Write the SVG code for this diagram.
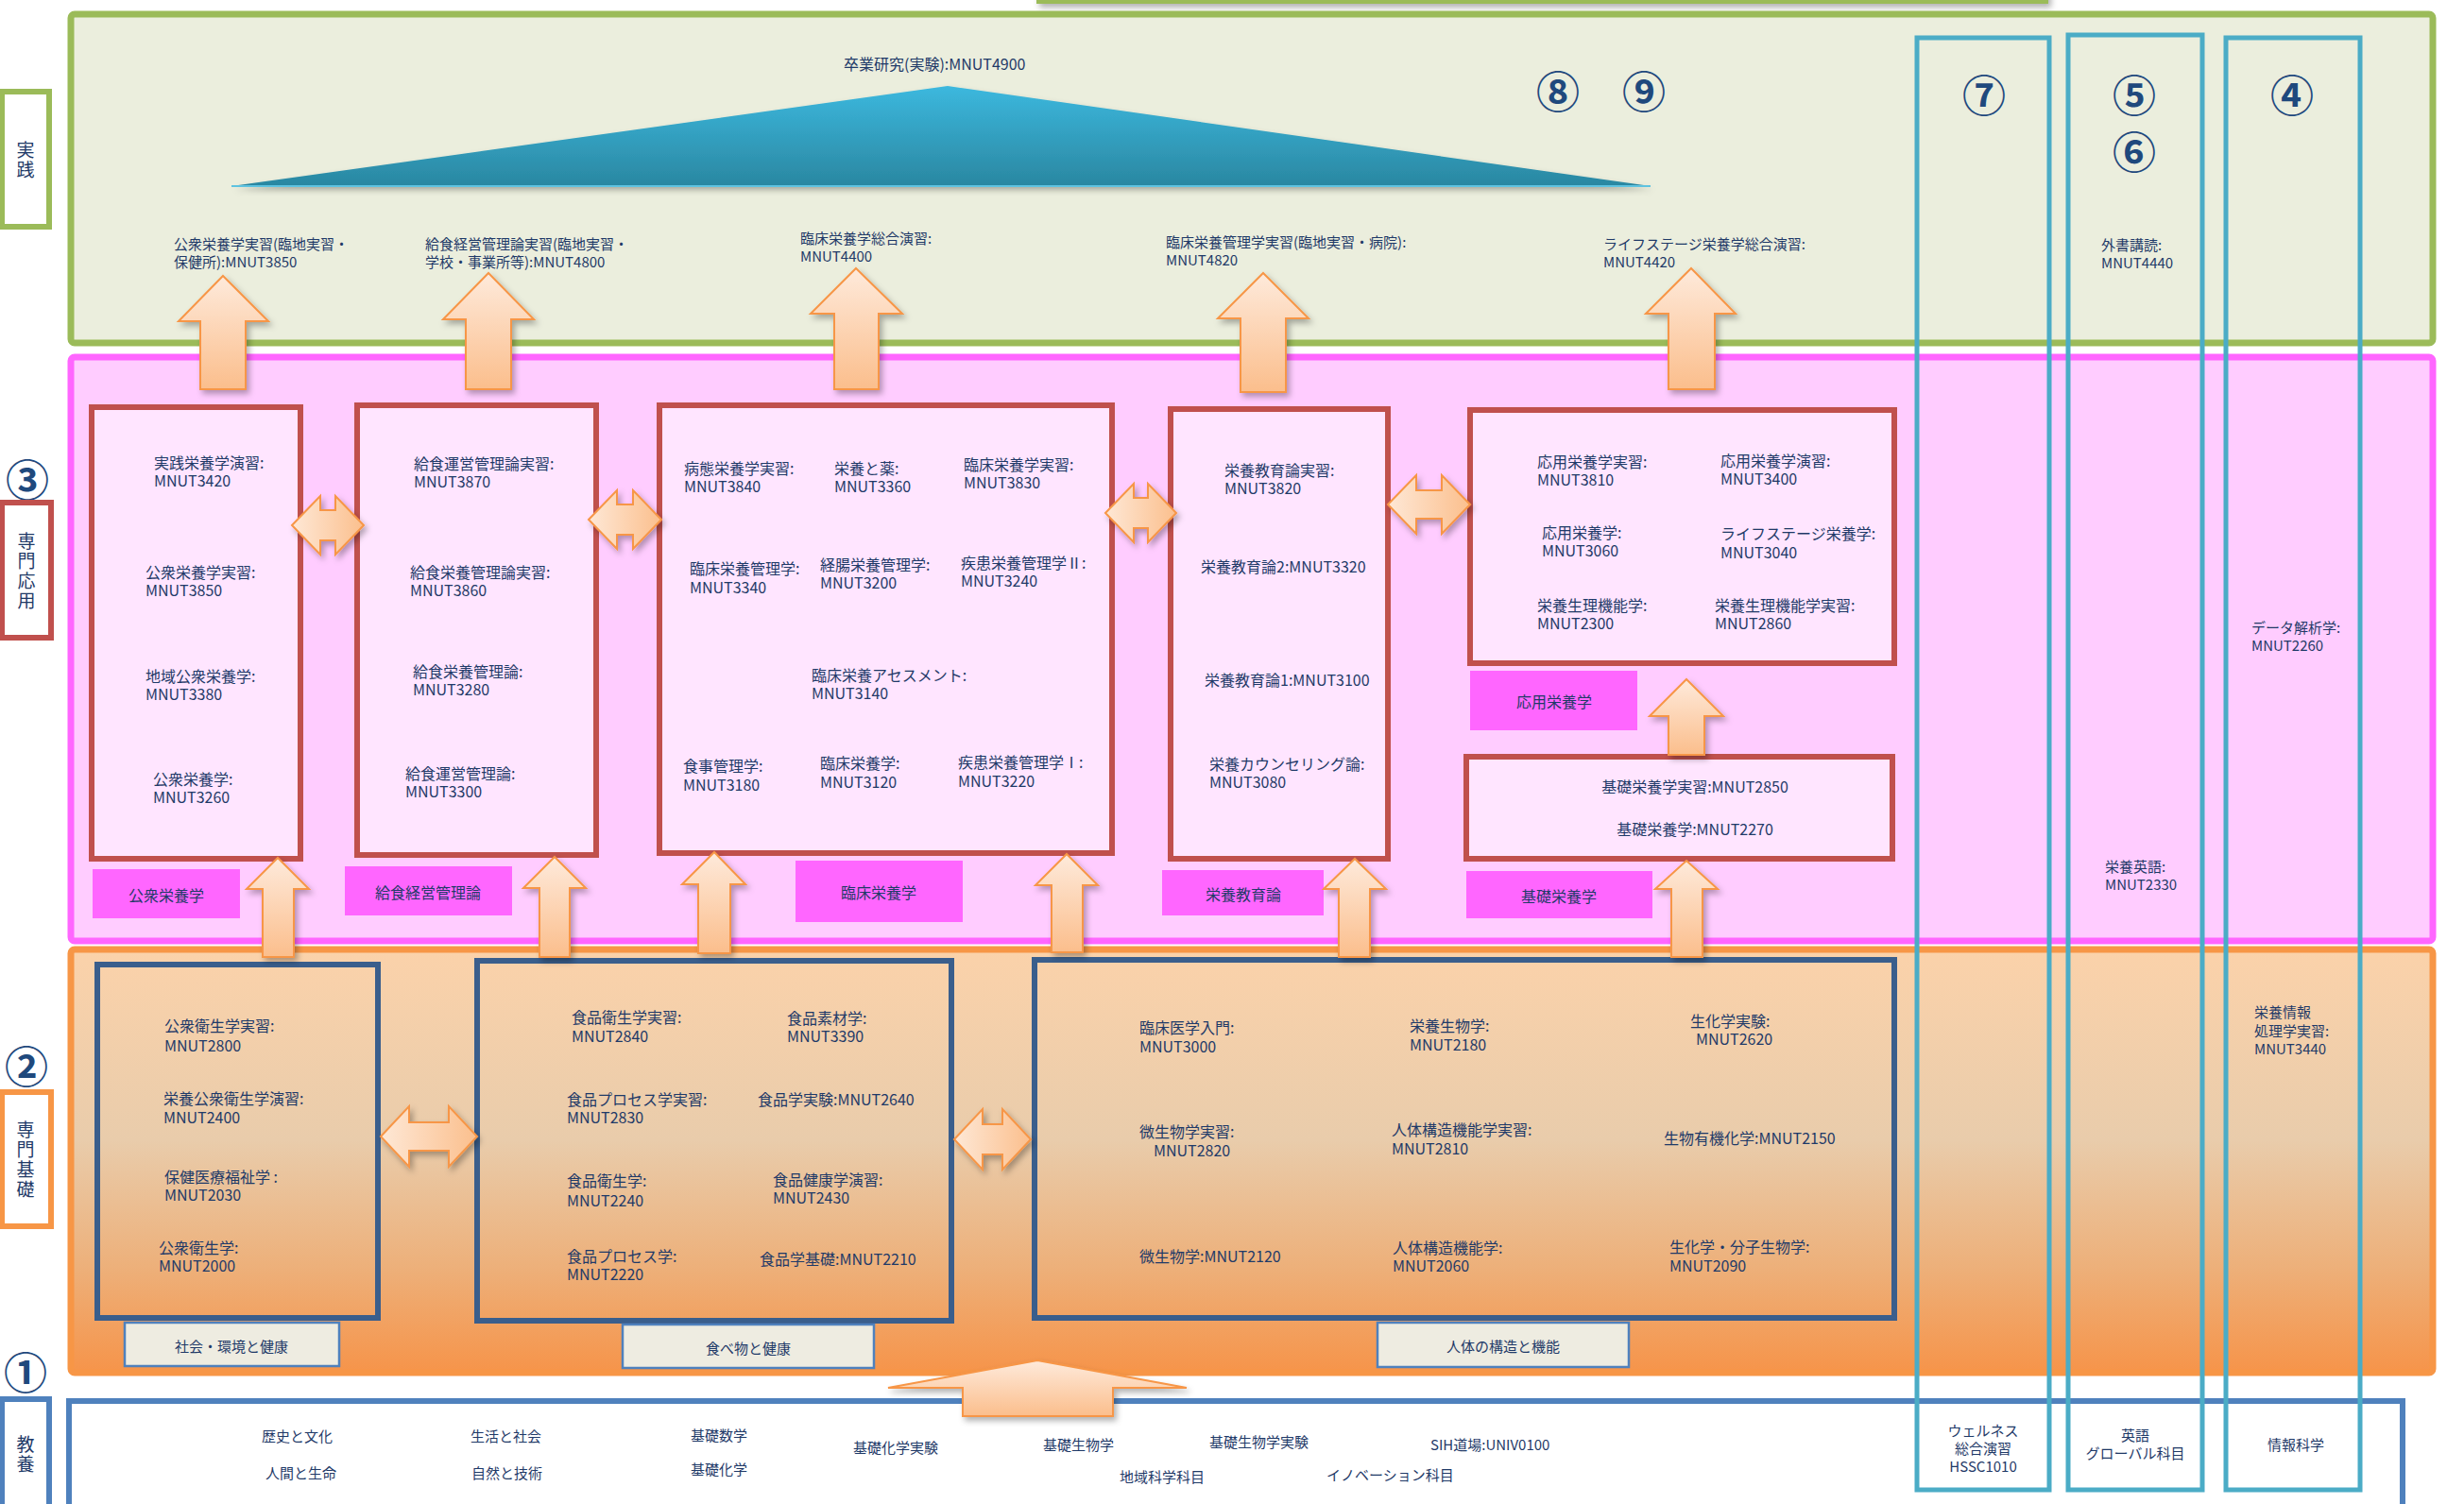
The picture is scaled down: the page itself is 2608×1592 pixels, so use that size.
<svg xmlns="http://www.w3.org/2000/svg" width="2608" height="1592" viewBox="0 0 2608 1592">
<style>
.t{font-family:"Noto Sans CJK JP","Noto Sans CJK SC",sans-serif;font-size:16px;fill:#1F3A68;dominant-baseline:central}
.s15{font-size:15px}
.m{text-anchor:middle}
.num{font-family:"Noto Sans CJK JP","DejaVu Sans",sans-serif;font-size:46px;font-weight:bold;fill:#1F497D;text-anchor:middle;dominant-baseline:central}
.side{font-family:"Noto Sans CJK JP",sans-serif;font-size:19px;fill:#1F3A68;text-anchor:middle;writing-mode:vertical-rl;letter-spacing:2px}
.pbox{fill:#FFE5FF;stroke:#C0504D;stroke-width:6}
.obox{fill:none;stroke:#3A5E8C;stroke-width:6}
.tag{fill:#FF66FF}
.gtag{fill:#EEECE1;stroke:#4F81BD;stroke-width:2.5}
.col{fill:none;stroke:#4BACC6;stroke-width:5}
.up{fill:url(#gUp);stroke:#F79646;stroke-width:2;filter:url(#sh)}
.lr{fill:url(#gLR);stroke:#F79646;stroke-width:2;filter:url(#sh)}
</style>
<defs>
<linearGradient id="gOr" x1="0" y1="0" x2="0" y2="1">
<stop offset="0" stop-color="#FBD2AA"/><stop offset="0.45" stop-color="#E9CCAB"/><stop offset="0.75" stop-color="#EDB07A"/><stop offset="1" stop-color="#F6944A"/>
</linearGradient>
<linearGradient id="gUp" x1="0" y1="0" x2="0" y2="1">
<stop offset="0" stop-color="#FEEADB"/><stop offset="1" stop-color="#FBBE8C"/>
</linearGradient>
<linearGradient id="gLR" x1="0" y1="0" x2="1" y2="0">
<stop offset="0" stop-color="#FEE8D6"/><stop offset="1" stop-color="#FBBF8D"/>
</linearGradient>
<linearGradient id="gTri" x1="0" y1="0" x2="0" y2="1">
<stop offset="0" stop-color="#3CB8DE"/><stop offset="1" stop-color="#2A87A1"/>
</linearGradient>
<filter id="sh" x="-20%" y="-20%" width="150%" height="150%">
<feDropShadow dx="3" dy="4" stdDeviation="3" flood-color="#000" flood-opacity="0.3"/>
</filter>
</defs>

<!-- layers -->
<g id="layers">
<rect x="1099" y="-40" width="1067" height="42" fill="#fff" stroke="#9BBB59" stroke-width="4" filter="url(#sh)"/>
<rect id="layer-jissen" x="75" y="15" width="2500" height="348" rx="4" fill="#EBEEDD" stroke="#9BBB59" stroke-width="7"/>
<rect id="layer-oyo" x="75" y="378" width="2500" height="618" rx="4" fill="#FFCCFF" stroke="#FF66FF" stroke-width="7"/>
<rect id="layer-kiso" x="75" y="1005" width="2500" height="448" rx="4" fill="url(#gOr)" stroke="#F79646" stroke-width="7"/>
<rect id="layer-kyoyo" x="73" y="1483" width="2470" height="140" fill="#fff" stroke="#4F81BD" stroke-width="6"/>
</g>

<!-- left side labels -->
<g id="side-jissen">
<rect x="2" y="97" width="50" height="143" fill="#fff" stroke="#9BBB59" stroke-width="6"/>
<text class="side" x="27" y="170">実践</text>
</g>
<g id="side-oyo">
<text class="num" x="29" y="505">③</text>
<rect x="2" y="532" width="52" height="143" fill="#fff" stroke="#C0504D" stroke-width="6"/>
<text class="side" x="28" y="605">専門応用</text>
</g>
<g id="side-kiso">
<text class="num" x="28" y="1126">②</text>
<rect x="2" y="1156" width="52" height="142" fill="#fff" stroke="#F79646" stroke-width="6"/>
<text class="side" x="27" y="1228">専門基礎</text>
</g>
<g id="side-kyoyo">
<text class="num" x="27" y="1450">①</text>
<rect x="2" y="1481" width="50" height="140" fill="#fff" stroke="#4F81BD" stroke-width="6"/>
<text class="side" x="27" y="1540">教養</text>
</g>

<!-- top layer -->
<g id="sotsuken">
<path d="M245,197 L1003,91 L1747,197 Z" fill="url(#gTri)" filter="url(#sh)"/>
<line x1="245" y1="197" x2="1747" y2="197" stroke="#5FC3E0" stroke-width="2"/>
<text class="t" x="893" y="67">卒業研究(実験):MNUT4900</text>
</g>
<g id="top-nums">
<text class="num" x="1649" y="94">⑧</text>
<text class="num" x="1740" y="94">⑨</text>
</g>
<g id="top-1"><text class="t s15" x="184" y="257">公衆栄養学実習(臨地実習・<tspan x="184" dy="19">保健所):MNUT3850</tspan></text></g>
<g id="top-2"><text class="t s15" x="450" y="257">給食経営管理論実習(臨地実習・<tspan x="450" dy="19">学校・事業所等):MNUT4800</tspan></text></g>
<g id="top-3"><text class="t s15" x="847" y="251">臨床栄養学総合演習:<tspan x="847" dy="19">MNUT4400</tspan></text></g>
<g id="top-4"><text class="t s15" x="1234" y="255">臨床栄養管理学実習(臨地実習・病院):<tspan x="1234" dy="19">MNUT4820</tspan></text></g>
<g id="top-5"><text class="t s15" x="1697" y="257">ライフステージ栄養学総合演習:<tspan x="1697" dy="19">MNUT4420</tspan></text></g>

<!-- pink layer boxes -->
<g id="box-koshu">
<rect class="pbox" x="97" y="431" width="221" height="478"/>
<text class="t" x="163" y="489">実践栄養学演習:<tspan x="163" dy="19">MNUT3420</tspan></text>
<text class="t" x="154" y="605">公衆栄養学実習:<tspan x="154" dy="19">MNUT3850</tspan></text>
<text class="t" x="154" y="715">地域公衆栄養学:<tspan x="154" dy="19">MNUT3380</tspan></text>
<text class="t" x="162" y="824">公衆栄養学:<tspan x="162" dy="19">MNUT3260</tspan></text>
<rect class="tag" x="98" y="920" width="156" height="52"/>
<text class="t m" x="176" y="947">公衆栄養学</text>
</g>
<g id="box-kyushoku">
<rect class="pbox" x="378" y="429" width="253" height="476"/>
<text class="t" x="438" y="490">給食運営管理論実習:<tspan x="438" dy="19">MNUT3870</tspan></text>
<text class="t" x="434" y="605">給食栄養管理論実習:<tspan x="434" dy="19">MNUT3860</tspan></text>
<text class="t" x="437" y="710">給食栄養管理論:<tspan x="437" dy="19">MNUT3280</tspan></text>
<text class="t" x="429" y="818">給食運営管理論:<tspan x="429" dy="19">MNUT3300</tspan></text>
<rect class="tag" x="365" y="917" width="177" height="52"/>
<text class="t m" x="453" y="944">給食経営管理論</text>
</g>
<g id="box-rinsho">
<rect class="pbox" x="698" y="429" width="479" height="474"/>
<text class="t" x="724" y="495">病態栄養学実習:<tspan x="724" dy="19">MNUT3840</tspan></text>
<text class="t" x="883" y="495">栄養と薬:<tspan x="883" dy="19">MNUT3360</tspan></text>
<text class="t" x="1020" y="491">臨床栄養学実習:<tspan x="1020" dy="19">MNUT3830</tspan></text>
<text class="t" x="730" y="601">臨床栄養管理学:<tspan x="730" dy="20">MNUT3340</tspan></text>
<text class="t" x="868" y="597">経腸栄養管理学:<tspan x="868" dy="19">MNUT3200</tspan></text>
<text class="t" x="1017" y="595">疾患栄養管理学Ⅱ:<tspan x="1017" dy="19">MNUT3240</tspan></text>
<text class="t" x="859" y="714">臨床栄養アセスメント:<tspan x="859" dy="19">MNUT3140</tspan></text>
<text class="t" x="723" y="810">食事管理学:<tspan x="723" dy="20">MNUT3180</tspan></text>
<text class="t" x="868" y="807">臨床栄養学:<tspan x="868" dy="20">MNUT3120</tspan></text>
<text class="t" x="1014" y="806">疾患栄養管理学Ⅰ:<tspan x="1014" dy="20">MNUT3220</tspan></text>
<rect class="tag" x="842" y="911" width="177" height="65"/>
<text class="t m" x="930" y="944">臨床栄養学</text>
</g>
<g id="box-kyoiku">
<rect class="pbox" x="1239" y="433" width="230" height="476"/>
<text class="t" x="1296" y="497">栄養教育論実習:<tspan x="1296" dy="19">MNUT3820</tspan></text>
<text class="t" x="1271" y="599">栄養教育論2:MNUT3320</text>
<text class="t" x="1275" y="719">栄養教育論1:MNUT3100</text>
<text class="t" x="1280" y="808">栄養カウンセリング論:<tspan x="1280" dy="19">MNUT3080</tspan></text>
<rect class="tag" x="1230" y="921" width="171" height="48"/>
<text class="t m" x="1316" y="946">栄養教育論</text>
</g>
<g id="box-oyoeiyo">
<rect class="pbox" x="1556" y="434" width="449" height="268"/>
<text class="t" x="1627" y="488">応用栄養学実習:<tspan x="1627" dy="19">MNUT3810</tspan></text>
<text class="t" x="1821" y="487">応用栄養学演習:<tspan x="1821" dy="19">MNUT3400</tspan></text>
<text class="t" x="1632" y="563">応用栄養学:<tspan x="1632" dy="19">MNUT3060</tspan></text>
<text class="t" x="1821" y="564">ライフステージ栄養学:<tspan x="1821" dy="20">MNUT3040</tspan></text>
<text class="t" x="1627" y="640">栄養生理機能学:<tspan x="1627" dy="19">MNUT2300</tspan></text>
<text class="t" x="1815" y="640">栄養生理機能学実習:<tspan x="1815" dy="19">MNUT2860</tspan></text>
<rect class="tag" x="1556" y="710" width="177" height="63"/>
<text class="t m" x="1645" y="742">応用栄養学</text>
</g>
<g id="box-kisoeiyo">
<rect class="pbox" x="1552" y="801" width="451" height="108"/>
<text class="t m" x="1794" y="832">基礎栄養学実習:MNUT2850</text>
<text class="t m" x="1794" y="877">基礎栄養学:MNUT2270</text>
<rect class="tag" x="1552" y="922" width="197" height="50"/>
<text class="t m" x="1650" y="948">基礎栄養学</text>
</g>

<!-- orange layer boxes -->
<g id="box-shakai">
<rect class="obox" x="103" y="1021" width="297" height="374"/>
<text class="t" x="174" y="1085">公衆衛生学実習:<tspan x="174" dy="21">MNUT2800</tspan></text>
<text class="t" x="173" y="1162">栄養公衆衛生学演習:<tspan x="173" dy="20">MNUT2400</tspan></text>
<text class="t" x="174" y="1245">保健医療福祉学 :<tspan x="174" dy="19">MNUT2030</tspan></text>
<text class="t" x="168" y="1320">公衆衛生学:<tspan x="168" dy="19">MNUT2000</tspan></text>
<rect class="gtag" x="132" y="1400" width="227" height="46"/>
<text class="t s15 m" x="245" y="1424">社会・環境と健康</text>
</g>
<g id="box-tabemono">
<rect class="obox" x="505" y="1017" width="502" height="381"/>
<text class="t" x="605" y="1076">食品衛生学実習:<tspan x="605" dy="20">MNUT2840</tspan></text>
<text class="t" x="833" y="1077">食品素材学:<tspan x="833" dy="19">MNUT3390</tspan></text>
<text class="t" x="600" y="1163">食品プロセス学実習:<tspan x="600" dy="19">MNUT2830</tspan></text>
<text class="t" x="802" y="1163">食品学実験:MNUT2640</text>
<text class="t" x="600" y="1249">食品衛生学:<tspan x="600" dy="21">MNUT2240</tspan></text>
<text class="t" x="818" y="1248">食品健康学演習:<tspan x="818" dy="19">MNUT2430</tspan></text>
<text class="t" x="600" y="1329">食品プロセス学:<tspan x="600" dy="19">MNUT2220</tspan></text>
<text class="t" x="804" y="1332">食品学基礎:MNUT2210</text>
<rect class="gtag" x="659" y="1402" width="266" height="46"/>
<text class="t s15 m" x="792" y="1426">食べ物と健康</text>
</g>
<g id="box-jintai">
<rect class="obox" x="1095" y="1016" width="910" height="379"/>
<text class="t" x="1206" y="1087">臨床医学入門:<tspan x="1206" dy="20">MNUT3000</tspan></text>
<text class="t" x="1492" y="1085">栄養生物学:<tspan x="1492" dy="20">MNUT2180</tspan></text>
<text class="t" x="1789" y="1080">生化学実験:<tspan x="1795" dy="19">MNUT2620</tspan></text>
<text class="t" x="1206" y="1197">微生物学実習:<tspan x="1221" dy="20">MNUT2820</tspan></text>
<text class="t" x="1473" y="1195">人体構造機能学実習:<tspan x="1473" dy="20">MNUT2810</tspan></text>
<text class="t" x="1761" y="1204">生物有機化学:MNUT2150</text>
<text class="t" x="1206" y="1329">微生物学:MNUT2120</text>
<text class="t" x="1474" y="1320">人体構造機能学:<tspan x="1474" dy="19">MNUT2060</tspan></text>
<text class="t" x="1767" y="1319">生化学・分子生物学:<tspan x="1767" dy="20">MNUT2090</tspan></text>
<rect class="gtag" x="1458" y="1400" width="266" height="47"/>
<text class="t s15 m" x="1591" y="1424">人体の構造と機能</text>
</g>

<!-- kyoyo layer texts -->
<g id="kyoyo-items">
<text class="t s15" x="277" y="1519">歴史と文化</text>
<text class="t s15" x="281" y="1558">人間と生命</text>
<text class="t s15" x="498" y="1519">生活と社会</text>
<text class="t s15" x="499" y="1558">自然と技術</text>
<text class="t s15" x="731" y="1518">基礎数学</text>
<text class="t s15" x="731" y="1554">基礎化学</text>
<text class="t s15" x="903" y="1531">基礎化学実験</text>
<text class="t s15" x="1104" y="1528">基礎生物学</text>
<text class="t s15" x="1280" y="1525">基礎生物学実験</text>
<text class="t s15" x="1514" y="1528">SIH道場:UNIV0100</text>
<text class="t s15" x="1185" y="1562">地域科学科目</text>
<text class="t s15" x="1404" y="1560">イノベーション科目</text>
</g>

<!-- connectors -->
<g id="connectors">
<path class="up" d="M236,292 L284,340 L260,340 L260,412 L212,412 L212,340 L189,340 Z"/>
<path class="up" d="M517,289 L565,338 L541,338 L541,412 L493,412 L493,338 L469,338 Z"/>
<path class="up" d="M906,284 L955,332 L930,332 L930,412 L883,412 L883,332 L858,332 Z"/>
<path class="up" d="M1337,289 L1385,337 L1361,337 L1361,415 L1313,415 L1313,337 L1289,337 Z"/>
<path class="up" d="M1790,284 L1837,332 L1815,332 L1815,412 L1766,412 L1766,332 L1742,332 Z"/>

<path class="up" d="M294,908 L327,941 L311,941 L311,1013 L278,1013 L278,941 L261,941 Z"/>
<path class="up" d="M587,907 L620,940 L603,940 L603,1013 L571,1013 L571,940 L554,940 Z"/>
<path class="up" d="M756,902 L789,936 L773,936 L773,1009 L739,1009 L739,936 L722,936 Z"/>
<path class="up" d="M1129,904 L1162,937 L1146,937 L1146,1008 L1113,1008 L1113,937 L1096,937 Z"/>
<path class="up" d="M1434,909 L1467,941 L1450,941 L1450,1013 L1417,1013 L1417,941 L1401,941 Z"/>
<path class="up" d="M1785,719 L1824,758 L1804,758 L1804,799 L1766,799 L1766,758 L1746,758 Z"/>
<path class="up" d="M1785,911 L1818,941 L1802,941 L1802,1013 L1769,1013 L1769,941 L1752,941 Z"/>

<path class="lr" d="M309,556 L339,525 L339,540 L355,540 L355,525 L385,556 L355,587 L355,572 L339,572 L339,587 Z"/>
<path class="lr" d="M623,550 L653,519 L653,534 L670,534 L670,519 L700,550 L670,581 L670,566 L653,566 L653,581 Z"/>
<path class="lr" d="M1170,543 L1200,512 L1200,527 L1215,527 L1215,512 L1245,543 L1215,574 L1215,559 L1200,559 L1200,574 Z"/>
<path class="lr" d="M1469,534 L1499,503 L1499,519 L1526,519 L1526,503 L1556,534 L1526,565 L1526,549 L1499,549 L1499,565 Z"/>
<path class="lr" d="M403,1203 L433,1171 L433,1188 L475,1188 L475,1171 L505,1203 L475,1235 L475,1218 L433,1218 L433,1235 Z"/>
<path class="lr" d="M1010,1206 L1040,1174 L1040,1190 L1061,1190 L1061,1174 L1091,1206 L1061,1238 L1061,1222 L1040,1222 L1040,1238 Z"/>

<path class="up" d="M1098,1440 L1256,1469 L1178,1469 L1178,1499 L1019,1499 L1019,1469 L940,1469 Z"/>
</g>

<!-- vertical columns -->
<g id="col-7">
<rect class="col" x="2029" y="40" width="140" height="1537"/>
<text class="num" x="2100" y="98">⑦</text>
<text class="t s15 m" x="2099" y="1513">ウェルネス<tspan x="2099" dy="19">総合演習</tspan><tspan x="2099" dy="19">HSSC1010</tspan></text>
</g>
<g id="col-56">
<rect class="col" x="2189" y="37" width="142" height="1540"/>
<text class="num" x="2259" y="98">⑤</text>
<text class="num" x="2259" y="158">⑥</text>
<text class="t s15" x="2224" y="258">外書講読:<tspan x="2224" dy="19">MNUT4440</tspan></text>
<text class="t s15" x="2228" y="916">栄養英語:<tspan x="2228" dy="19">MNUT2330</tspan></text>
<text class="t s15 m" x="2260" y="1518">英語<tspan x="2260" dy="19">グローバル科目</tspan></text>
</g>
<g id="col-4">
<rect class="col" x="2356" y="40" width="142" height="1537"/>
<text class="num" x="2426" y="98">④</text>
<text class="t s15" x="2383" y="663">データ解析学:<tspan x="2383" dy="19">MNUT2260</tspan></text>
<text class="t s15" x="2386" y="1070">栄養情報<tspan x="2386" dy="20">処理学実習:</tspan><tspan x="2386" dy="19">MNUT3440</tspan></text>
<text class="t s15 m" x="2430" y="1528">情報科学</text>
</g>
</svg>
